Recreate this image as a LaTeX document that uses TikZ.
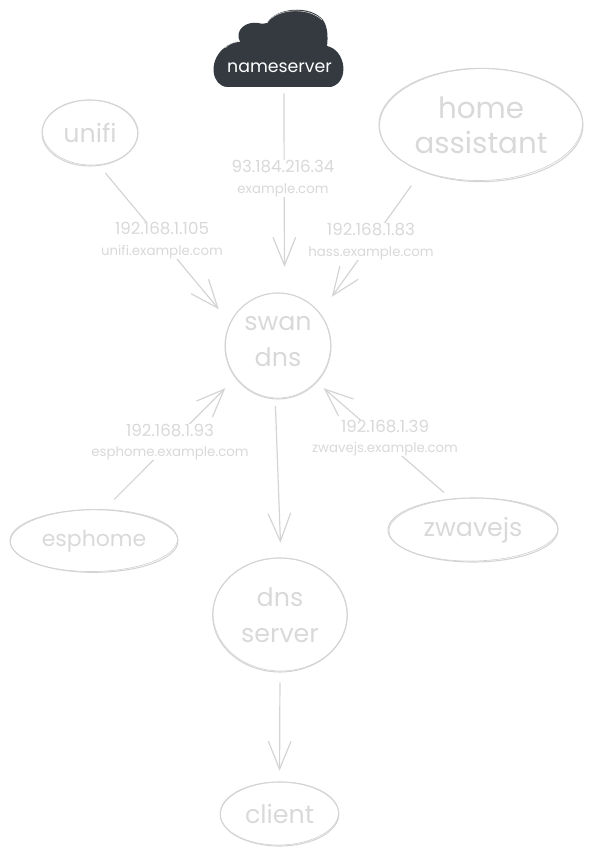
\documentclass[tikz,border=0pt]{standalone}
\usepackage{fontspec}
\setmainfont{Poppins}
\usetikzlibrary{arrows.meta}
\usetikzlibrary{shapes.geometric}
\definecolor{sketchgray}{HTML}{D4D4D4}
\definecolor{textgray}{HTML}{D9D9D9}
\definecolor{clouddark}{HTML}{343A40}
\newcommand{\ipline}[1]{{\fontsize{12.5}{15.5}\selectfont #1}}
\tikzset{
  >={Straight Barb[length=21pt,width=17pt]},
  blob/.style={draw=sketchgray, ellipse, line width=.8pt, text=textgray, align=center, inner sep=0pt,
    font=\fontsize{19}{27}\selectfont},
  rough/.style={draw=sketchgray, line width=.5pt},
  conn/.style={->, draw=sketchgray, line width=.9pt},
  addr/.style={fill=white, text=textgray, align=center, inner sep=0pt,
    font=\fontsize{10}{15.5}\selectfont}
}

\begin{document}
\begin{tikzpicture}[x=.75pt, y=-.75pt]
  \useasboundingbox (0,0) rectangle (594,856);
  % cloud
  \fill[clouddark] (227,87) .. controls (212,86) and (208,62) .. (223,49)
    .. controls (228,44) and (234,42) .. (240,42)
    .. controls (234,30) and (246,21) .. (258,23)
    .. controls (262,24) and (265,24) .. (267,23)
    .. controls (275,8) and (310,4) .. (323,20)
    .. controls (328,27) and (328,38) .. (327,46)
    .. controls (346,50) and (350,82) .. (331,87) -- cycle;
  \draw[sketchgray, line width=.4pt] (225,48) .. controls (229,44) and (234,42) .. (240,41)
    (267,23) .. controls (275,9) and (308,6) .. (322,20);
  \node[text=white, font=\fontsize{13}{16}\selectfont, minimum height=37.5pt] (nameserver) at (279.5,68) {nameserver};

  % hosts
  \node[blob, minimum width=72pt, minimum height=49.5pt] (unifi) at (90,133) {unifi};
  \node[blob, font=\fontsize{22}{26}\selectfont, minimum width=153pt, minimum height=85pt] (hass) at (481,125) {home\\assistant};
  \node[blob, minimum width=79.5pt, minimum height=79.5pt] (swan) at (278,346) {swan\\dns\\[-19.5pt]\mbox{}};
  \node[blob, font=\fontsize{16.5}{20}\selectfont, minimum width=126pt, minimum height=47pt] (esphome) at (94,541) {esphome};
  \node[blob, minimum width=127.5pt, minimum height=48pt] (zwavejs) at (473,530) {zwavejs};
  \node[blob, minimum width=101pt, minimum height=85.5pt] (dnsserver) at (280,615) {dns\\server};
  \node[blob, minimum width=89pt, minimum height=48pt] (client) at (279.5,814) {client};

  % second pencil pass
  \draw[rough, rotate around={-2:(90,133)}] (90,132.5) ellipse [x radius=47.5, y radius=32.5];
  \draw[rough, rotate around={1:(481,125)}] (481,124.5) ellipse [x radius=101.5, y radius=56];
  \draw[rough, rotate around={3:(278,346)}] (278,345.5) ellipse [x radius=52.5, y radius=52.5];
  \draw[rough, rotate around={1:(94,541)}] (94,540.5) ellipse [x radius=83.5, y radius=31];
  \draw[rough, rotate around={1:(473,530)}] (473.5,529.5) ellipse [x radius=84.5, y radius=31.5];
  \draw[rough, rotate around={-2:(280,615)}] (280,614.5) ellipse [x radius=67, y radius=56.5];
  \draw[rough, rotate around={1:(279.5,814)}] (279.5,813.5) ellipse [x radius=59, y radius=31.5];

  % connectors
  \draw[conn, shorten >=19.5pt] (nameserver.-80) -- (swan.83);
  \draw[conn, shorten <=7pt, shorten >=13pt] (unifi.-74) -- (swan.154);
  \draw[conn, shorten <=13pt, shorten >=15pt] (hass.218) -- (swan.38.5);
  \draw[conn, shorten <=10.5pt, shorten >=10.5pt] (esphome.72) -- (swan.217);
  \draw[conn, shorten <=7pt, shorten >=6.5pt] (zwavejs.125) -- (swan.-43);
  \draw[conn, shorten <=5pt, shorten >=11pt] (swan.-93) -- (dnsserver.89);
  \draw[conn, shorten <=7.5pt, shorten >=8pt] (dnsserver.south) -- (client.north);

  % addresses
  \node[addr] (nameaddr) at (283,178.5) {\ipline{93.184.216.34}\\example.com};
  \node[addr] (unifiaddr) at (162,240.5) {\ipline{192.168.1.105}\\unifi.example.com};
  \node[addr] (hassaddr) at (371,241.5) {\ipline{192.168.1.83}\\hass.example.com};
  \node[addr] (esphomeaddr) at (170,442) {\ipline{192.168.1.93}\\esphome.example.com};
  \node[addr] (zwavejsaddr) at (385,438) {\ipline{192.168.1.39}\\zwavejs.example.com};
\end{tikzpicture}
\end{document}
